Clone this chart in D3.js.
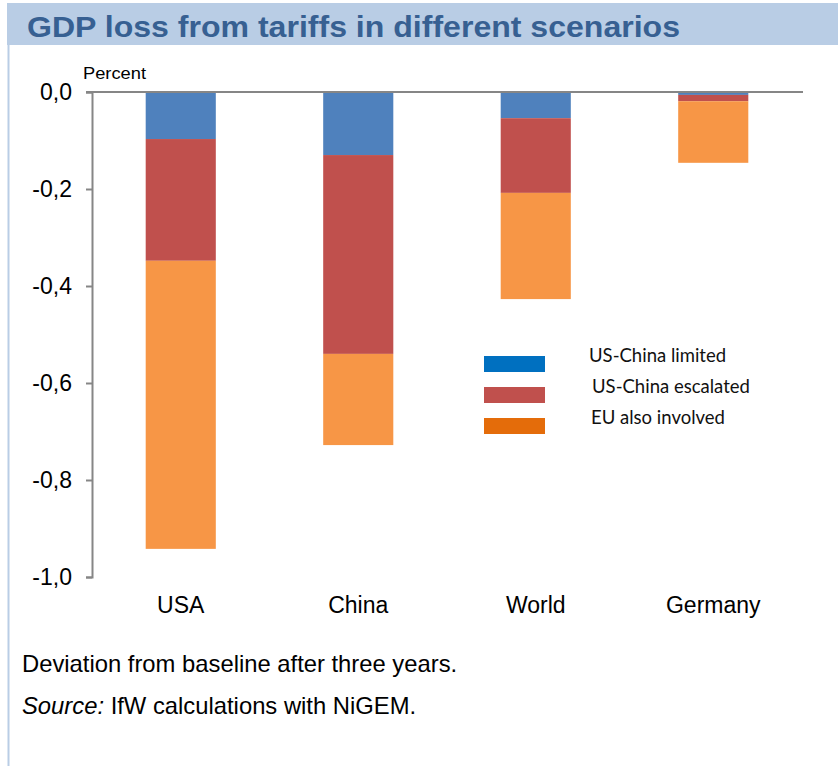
<!DOCTYPE html>
<html>
<head>
<meta charset="utf-8">
<script src="https://cdn.jsdelivr.net/npm/d3@7"></script>
<style>
  body { margin: 0; background: #fff; }
  svg { display: block; }
</style>
</head>
<body>
<svg id="chart" width="838" height="766"></svg>
<script>
// --------------------------
// DATA
// --------------------------
const countries = ["USA", "China", "World", "Germany"];
const scenarios = ["US-China limited", "US-China escalated", "EU also involved"];
// additional GDP loss of each scenario step (percent)
const limited   = [-0.097, -0.130, -0.054, -0.006];
const escalated = [-0.251, -0.410, -0.154, -0.013];
const euAlso    = [-0.594, -0.188, -0.219, -0.127];
const yTicks = [0, -0.2, -0.4, -0.6, -0.8, -1.0];

const barColors = ["#4f81bd", "#c0504d", "#f79646"];
const legendColors = ["#0070c0", "#c0504d", "#e46c0a"];

const arial = "Liberation Sans, Arial, sans-serif";

// --------------------------
// FRAME
// --------------------------
const svg = d3.select("#chart");
const width = +svg.attr("width");
const height = +svg.attr("height");

svg.append("rect")
    .attr("x", 7).attr("y", 3)
    .attr("width", width - 7).attr("height", 42)
    .attr("fill", "#b9cde5");

svg.append("line")
    .attr("x1", 8.5).attr("x2", 8.5)
    .attr("y1", 45).attr("y2", height)
    .attr("stroke", "#b9cde5")
    .attr("stroke-width", 2);

svg.append("text")
    .attr("x", 27).attr("y", 37)
    .attr("font-family", arial)
    .attr("font-weight", "bold")
    .attr("font-size", 30)
    .attr("fill", "#376092")
    .attr("textLength", 653)
    .attr("lengthAdjust", "spacingAndGlyphs")
    .text("GDP loss from tariffs in different scenarios");

// --------------------------
// SCALES
// --------------------------
const margin = { top: 92, right: 36, bottom: 189, left: 92 };

const x = d3.scaleBand()
    .domain(countries)
    .range([margin.left, width - margin.right])
    .padding(0);

const y = d3.scaleLinear()
    .domain([0, -1.0])
    .range([margin.top, height - margin.bottom]);

const barWidth = x.bandwidth() * 0.395;

// stack the segments downward
const rows = countries.map((c, i) => ({ country: c, s0: limited[i], s1: escalated[i], s2: euAlso[i] }));
const stack = d3.stack()
    .keys(["s0", "s1", "s2"])
    .offset(d3.stackOffsetDiverging);
const series = stack(rows);

// --------------------------
// BARS
// --------------------------
svg.append("g")
    .selectAll("g")
    .data(series)
    .enter()
    .append("g")
    .attr("fill", (d, i) => barColors[i])
    .selectAll("rect")
    .data(d => d)
    .enter()
    .append("rect")
    .attr("x", d => x(d.data.country) + (x.bandwidth() - barWidth) / 2)
    .attr("y", d => y(d[1]))
    .attr("width", barWidth)
    .attr("height", d => y(d[0]) - y(d[1]));

// --------------------------
// AXES
// --------------------------
const fmt = v => d3.format(".1f")(v).replace(".", ",").replace("−", "-");

const yAxis = svg.append("g")
    .attr("transform", `translate(${margin.left},0)`)
    .call(d3.axisLeft(y).tickValues(yTicks).tickSize(6).tickPadding(14).tickFormat(fmt));
yAxis.select(".domain").attr("stroke", "#868686").attr("stroke-width", 2);
yAxis.selectAll(".tick line").attr("stroke", "#868686").attr("stroke-width", 2);
yAxis.selectAll(".tick text")
    .attr("font-family", arial)
    .attr("font-size", 23)
    .attr("fill", "#000");

svg.append("line")
    .attr("x1", margin.left - 6).attr("x2", 803)
    .attr("y1", y(0)).attr("y2", y(0))
    .attr("stroke", "#868686")
    .attr("stroke-width", 2);

const xAxis = svg.append("g")
    .attr("transform", `translate(0,${y(-1.0)})`)
    .call(d3.axisBottom(x).tickSize(0).tickPadding(20));
xAxis.select(".domain").remove();
xAxis.selectAll(".tick text")
    .attr("font-family", arial)
    .attr("font-size", 23)
    .attr("fill", "#000");

svg.append("text")
    .attr("x", 83).attr("y", 79)
    .attr("font-family", arial)
    .attr("font-size", 16)
    .attr("textLength", 63)
    .attr("lengthAdjust", "spacingAndGlyphs")
    .text("Percent");

// --------------------------
// LEGEND
// --------------------------
const legend = svg.append("g")
    .selectAll("g")
    .data(scenarios)
    .enter()
    .append("g")
    .attr("transform", (d, i) => `translate(484,${356 + i * 31})`);

legend.append("rect")
    .attr("width", 61).attr("height", 16)
    .attr("fill", (d, i) => legendColors[i]);

legend.append("text")
    .attr("x", (d, i) => [105, 108, 107][i])
    .attr("y", 6)
    .attr("font-family", "Lato, sans-serif")
    .attr("font-size", 18.5)
    .attr("fill", "#111")
    .text(d => d);

// --------------------------
// NOTES
// --------------------------
svg.append("text")
    .attr("x", 22).attr("y", 672)
    .attr("font-family", arial)
    .attr("font-size", 23.8)
    .text("Deviation from baseline after three years.");

const src = svg.append("text")
    .attr("x", 22).attr("y", 714)
    .attr("font-family", arial)
    .attr("font-size", 23.8);
src.append("tspan").attr("font-style", "italic").text("Source:");
src.append("tspan").text(" IfW calculations with NiGEM.");
</script>
</body>
</html>
